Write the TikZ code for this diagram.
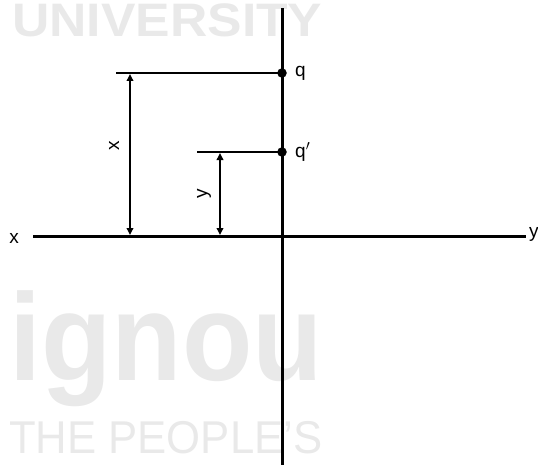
\documentclass[tikz,border=0pt]{standalone}
\usepackage{fontspec}
\setmainfont{Liberation Sans}
\usetikzlibrary{arrows.meta,positioning}
\definecolor{markgray}{RGB}{233,233,233}

\begin{document}
\begin{tikzpicture}[x=1pt,y=-1pt,
        axis/.style={line width=3pt},
        level/.style={line width=2.8pt},
        dim/.style={{Triangle[length=7pt,width=6.5pt]}-{Triangle[length=7pt,width=6.5pt]}, line width=2pt},
        pt/.style={circle, fill=black, inner sep=0pt, minimum size=9.5pt},
        lbl/.style={font=\fontsize{19}{21}\selectfont, inner sep=0pt},
        wmark/.style={text=markgray, inner sep=0pt, anchor=base west}
    ]
        \useasboundingbox (0,0) rectangle (538,468);

        % watermark
        \node[wmark, font=\fontsize{47}{48}\selectfont\bfseries, xscale=1.1] (uni) at (12,37) {UNIVERSITY};
        \node[wmark, font=\fontsize{124}{126}\selectfont\bfseries, xscale=0.93] (ign) at (9,380) {ignou};
        \node[wmark, font=\fontsize{46}{48}\selectfont, xscale=0.95] (ppl) at (9,453) {THE PEOPLE’S};

        % axes
        \coordinate (top) at (282,8);
        \coordinate (bot) at (282,465);
        \coordinate (left) at (33,236);
        \coordinate (right) at (526,236);
        \draw[axis] (top) -- (bot);
        \draw[axis] (left) -- (right);
        \node[lbl] (xl) at (14,238) {x};
        \node[lbl, anchor=west] (yl) at (529,234) {y};

        % points
        \node[pt] (q) at (282,73) {};
        \node[pt] (qp) at (282,152) {};
        \coordinate (qend) at (116,73);
        \coordinate (qpend) at (197,152);
        \draw[level] (qend) -- (q.center);
        \draw[level] (qpend) -- (qp.center);
        \node[lbl, anchor=west] (ql) at (295,73) {q};
        \node[lbl, anchor=west] (qpl) at (295,152) {q$'$};

        % distances
        \coordinate (xa) at (130,74);
        \coordinate (xb) at (130,235);
        \coordinate (ya) at (220,153);
        \coordinate (yb) at (220,235);
        \draw[dim] (xa) -- (xb);
        \draw[dim] (ya) -- (yb);
        \node[lbl, rotate=90] (xd) at (114,146) {x};
        \node[lbl, rotate=90] (yd) at (204,194) {y};
    \end{tikzpicture}
\end{document}
